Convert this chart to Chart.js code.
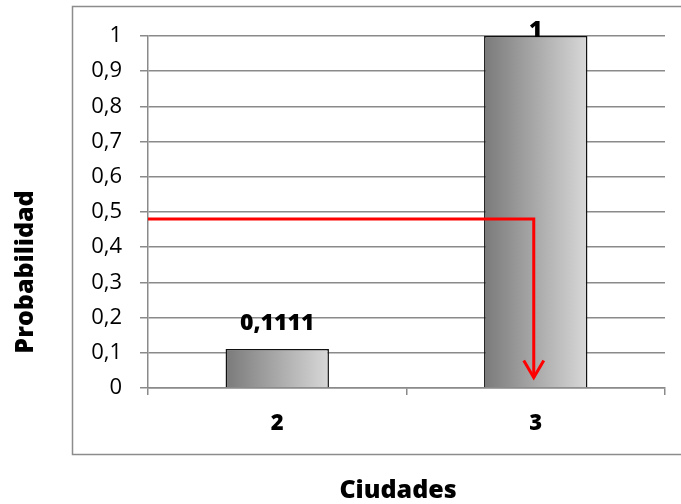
<!DOCTYPE html>
<html>
<head>
<meta charset="utf-8">
<script src="https://cdn.jsdelivr.net/npm/chart.js@4.4.0/dist/chart.umd.min.js"></script>
<style>
  html, body { margin: 0; padding: 0; background: #fff; }
  #wrap { width: 681px; height: 504px; }
</style>
</head>
<body>
<div id="wrap"><canvas id="chart" width="681" height="504"></canvas></div>
<script>
// data
const categories = ['2', '3'];
const probabilities = [0.1111, 1];
const yTicks = [0, 0.1, 0.2, 0.3, 0.4, 0.5, 0.6, 0.7, 0.8, 0.9, 1];
// red guide line: random number level, and the category it drops onto
const guideLevel = 0.48;
const guideEnd = 0.03;
const guideCategory = 1;
const xTitle = 'Ciudades';
const yTitle = 'Probabilidad';

const fontFamily = '"Open Sans", Lato, sans-serif';
const gridGray = '#8a8a8a';

function commaNum(v) {
  return String(v).replace('.', ',');
}

// horizontal gray gradient for each bar
function barGradient(context) {
  const chart = context.chart;
  const xs = chart.scales.x;
  if (!xs || !chart.chartArea) return '#aaaaaa';
  const center = xs.getPixelForValue(context.dataIndex);
  const half = (xs.width / categories.length) * 0.4 / 2;
  const g = chart.ctx.createLinearGradient(center - half, 0, center + half, 0);
  g.addColorStop(0, '#7a7a7a');
  g.addColorStop(1, '#d8d8d8');
  return g;
}

// outer frame of the chart area and the two axis titles (Excel style)
const framePlugin = {
  id: 'frame',
  beforeDraw(chart) {
    const ctx = chart.ctx;
    ctx.save();
    ctx.strokeStyle = '#8c8c8c';
    ctx.lineWidth = 1.5;
    ctx.strokeRect(72.5, 6.5, 640, 448);
    ctx.restore();
  },
  afterDraw(chart) {
    const ctx = chart.ctx;
    ctx.save();
    ctx.fillStyle = '#000';
    ctx.font = '800 25px ' + fontFamily;
    ctx.textAlign = 'center';
    ctx.textBaseline = 'alphabetic';
    ctx.fillText(xTitle, 398, 498);
    ctx.translate(33, 272);
    ctx.rotate(-Math.PI / 2);
    ctx.fillText(yTitle, 0, 0);
    ctx.restore();
  }
};

// value labels above the bars
const labelPlugin = {
  id: 'valueLabels',
  afterDatasetsDraw(chart) {
    const ctx = chart.ctx;
    const meta = chart.getDatasetMeta(0);
    ctx.save();
    ctx.font = '800 23px ' + fontFamily;
    ctx.fillStyle = '#000';
    ctx.textAlign = 'center';
    ctx.textBaseline = 'alphabetic';
    meta.data.forEach((bar, i) => {
      const y = Math.max(bar.y - 19, 37);
      ctx.fillText(commaNum(probabilities[i]), bar.x, y);
    });
    ctx.restore();
  }
};

// red line with arrow going down to the chosen category
const guidePlugin = {
  id: 'guide',
  afterDatasetsDraw(chart) {
    const ctx = chart.ctx;
    const xs = chart.scales.x, ys = chart.scales.y;
    const yLevel = ys.getPixelForValue(guideLevel);
    const xEnd = xs.getPixelForValue(guideCategory) - 2;
    const yEnd = ys.getPixelForValue(guideEnd);
    ctx.save();
    ctx.strokeStyle = '#ff0000';
    ctx.lineWidth = 3;
    ctx.beginPath();
    ctx.moveTo(chart.chartArea.left, yLevel);
    ctx.lineTo(xEnd, yLevel);
    ctx.lineTo(xEnd, yEnd);
    ctx.stroke();
    ctx.beginPath();
    ctx.moveTo(xEnd - 10, yEnd - 17);
    ctx.lineTo(xEnd, yEnd);
    ctx.lineTo(xEnd + 10, yEnd - 17);
    ctx.stroke();
    ctx.restore();
  }
};

new Chart(document.getElementById('chart'), {
  type: 'bar',
  data: {
    labels: categories,
    datasets: [{
      data: probabilities,
      backgroundColor: barGradient,
      borderColor: '#111',
      borderWidth: 1.5,
      barPercentage: 0.4,
      categoryPercentage: 1
    }]
  },
  options: {
    responsive: false,
    animation: false,
    events: [],
    layout: { padding: { left: 0, top: 36, right: 16, bottom: 0 } },
    plugins: {
      legend: { display: false },
      tooltip: { enabled: false }
    },
    scales: {
      x: {
        grid: {
          offset: true,
          drawOnChartArea: false,
          drawTicks: true,
          tickLength: 7,
          color: gridGray,
          lineWidth: 1.5
        },
        border: { color: gridGray, width: 1.5 },
        ticks: {
          color: '#000',
          font: { family: fontFamily, size: 22, weight: 800 },
          padding: 16
        },
        afterFit(scale) { scale.height = 116; }
      },
      y: {
        min: 0,
        max: 1,
        afterBuildTicks(scale) {
          scale.ticks = yTicks.map(v => ({ value: v }));
        },
        grid: {
          color: gridGray,
          lineWidth: 1.5,
          tickLength: 8
        },
        border: { color: gridGray, width: 1.5 },
        ticks: {
          color: '#000',
          font: { family: fontFamily, size: 22 },
          padding: 18,
          callback: v => commaNum(v)
        },
        afterFit(scale) { scale.width = 148; }
      }
    }
  },
  plugins: [framePlugin, labelPlugin, guidePlugin]
});
</script>
</body>
</html>
